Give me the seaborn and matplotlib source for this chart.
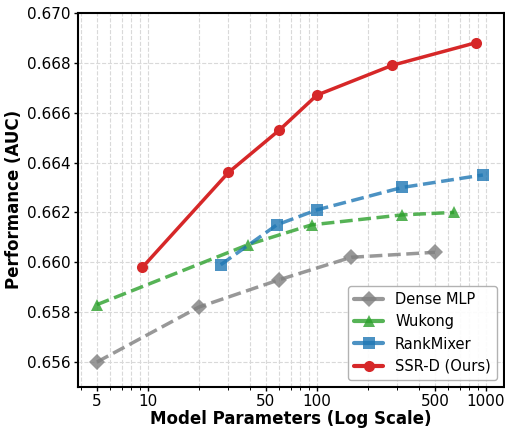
import numpy as np
import pandas as pd
import seaborn as sns
import matplotlib.pyplot as plt
from matplotlib.ticker import FixedLocator, FixedFormatter, LogLocator, NullFormatter

sns.set_theme(style='ticks')
plt.rcParams['font.family'] = ['DejaVu Sans']
plt.rcParams['text.color'] = 'black'
plt.rcParams['axes.labelcolor'] = 'black'
plt.rcParams['xtick.color'] = 'black'
plt.rcParams['ytick.color'] = 'black'

# values
dense_params = [5, 20, 60, 160, 500]
dense_auc = [0.6560, 0.6582, 0.6593, 0.6602, 0.6604]
wukong_params = [5, 39, 93, 320, 650]
wukong_auc = [0.6583, 0.6607, 0.6615, 0.6619, 0.6620]
rankmixer_params = [27, 58, 100, 320, 960]
rankmixer_auc = [0.6599, 0.6615, 0.6621, 0.6630, 0.6635]
ssrd_params = [9.3, 30, 60, 100, 280, 870]
ssrd_auc = [0.6598, 0.6636, 0.6653, 0.6667, 0.6679, 0.6688]

x_ticks = [5, 10, 50, 100, 500, 1000]
y_ticks = [0.656, 0.658, 0.660, 0.662, 0.664, 0.666, 0.668, 0.670]

df = pd.concat([
    pd.DataFrame({'model': 'Dense MLP', 'params': dense_params, 'auc': dense_auc}),
    pd.DataFrame({'model': 'Wukong', 'params': wukong_params, 'auc': wukong_auc}),
    pd.DataFrame({'model': 'RankMixer', 'params': rankmixer_params, 'auc': rankmixer_auc}),
    pd.DataFrame({'model': 'SSR-D (Ours)', 'params': ssrd_params, 'auc': ssrd_auc}),
])

styles = {
    'Dense MLP': dict(color='#7f7f7f', marker='D', ls='--', alpha=0.8, z=2, ms=8.5),
    'Wukong': dict(color='#2ca02c', marker='^', ls='--', alpha=0.8, z=3, ms=8.5),
    'RankMixer': dict(color='#1f77b4', marker='s', ls='--', alpha=0.8, z=4, ms=8),
    'SSR-D (Ours)': dict(color='#d62728', marker='o', ls='-', alpha=1.0, z=5, ms=8),
}

fig, ax = plt.subplots(figsize=(5.06, 4.29), dpi=100)
fig.subplots_adjust(left=0.154, right=0.996, top=0.970, bottom=0.098)

for name, st in styles.items():
    sub = df[df.model == name]
    sns.lineplot(data=sub, x='params', y='auc', ax=ax, label=name,
                 color=st['color'], marker=st['marker'], linestyle=st['ls'],
                 linewidth=2.5, markersize=st['ms'], alpha=st['alpha'],
                 markeredgewidth=0, zorder=st['z'])

ax.set_xscale('log')
ax.set_xlim(3.86, 1280)
ax.set_ylim(0.655, 0.670)
ax.xaxis.set_major_locator(FixedLocator(x_ticks))
ax.xaxis.set_major_formatter(FixedFormatter([str(t) for t in x_ticks]))
ax.xaxis.set_minor_locator(LogLocator(base=10, subs=np.arange(2, 10)))
ax.xaxis.set_minor_formatter(NullFormatter())
ax.set_yticks(y_ticks)
ax.set_yticklabels([f'{t:.3f}' for t in y_ticks])

ax.grid(True, which='both', axis='x', linestyle='--', color='#d9d9d9', linewidth=0.8)
ax.grid(True, which='major', axis='y', linestyle='--', color='#d9d9d9', linewidth=0.8)
ax.set_axisbelow(True)

for sp in ax.spines.values():
    sp.set_color('black')
    sp.set_linewidth(1.5)
ax.tick_params(axis='both', which='major', labelsize=11, width=1.0, length=3,
               pad=2, color='black', labelcolor='black')
ax.tick_params(axis='x', which='minor', width=0.7, length=2, color='black')

ax.set_xlabel('Model Parameters (Log Scale)', fontsize=12, fontweight='bold', labelpad=1)
ax.set_ylabel('Performance (AUC)', fontsize=12, fontweight='bold', labelpad=3)

leg = ax.legend(loc='lower right', fontsize=10.5, frameon=True, edgecolor='#aaaaaa',
                framealpha=0.9, handlelength=2.0)
for line in leg.get_lines():
    line.set_linestyle('-')
    line.set_linewidth(3)

plt.savefig('out.png', dpi=100)
plt.close()
